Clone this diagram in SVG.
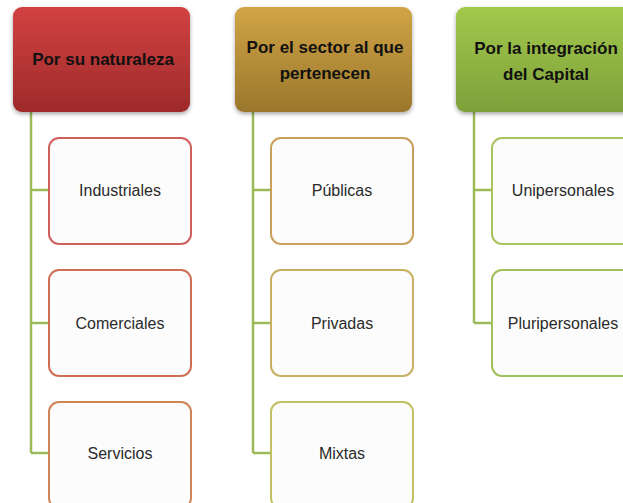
<svg xmlns="http://www.w3.org/2000/svg" width="623" height="503" viewBox="0 0 623 503">
  <style>
    .hdr { font-family: "Liberation Sans", Arial, sans-serif; font-weight: bold; font-size: 17px; fill: #111; text-anchor: middle; }
    .lbl { font-family: "Liberation Sans", Arial, sans-serif; font-size: 16px; fill: #2a2a2a; text-anchor: middle; }
    .child { fill: #fcfcfc; stroke-width: 2; }
    .conn { fill: none; stroke: #9bbb59; stroke-width: 2.5; }
  </style>
  <defs>
    <linearGradient id="gRed" x1="0" y1="0" x2="0" y2="1">
      <stop offset="0" stop-color="#d24242"/>
      <stop offset="1" stop-color="#9e2a2a"/>
    </linearGradient>
    <linearGradient id="gGold" x1="0" y1="0" x2="0" y2="1">
      <stop offset="0" stop-color="#d1a546"/>
      <stop offset="1" stop-color="#9a772c"/>
    </linearGradient>
    <linearGradient id="gGreen" x1="0" y1="0" x2="0" y2="1">
      <stop offset="0" stop-color="#a2c94c"/>
      <stop offset="1" stop-color="#7ea03a"/>
    </linearGradient>
    <filter id="sh" x="-10%" y="-10%" width="120%" height="130%">
      <feDropShadow dx="0" dy="2" stdDeviation="2" flood-color="#000" flood-opacity="0.35"/>
    </filter>
  </defs>

  <g id="connectors">
    <path class="conn" d="M31 112 V453 M31 190 H49 M31 323 H49 M31 453 H49"/>
    <path class="conn" d="M253 112 V453 M253 190 H271 M253 323 H271 M253 453 H271"/>
    <path class="conn" d="M474 112 V323 M474 190 H493 M474 323 H493"/>
  </g>

  <g id="h1">
    <rect x="13" y="7" width="177" height="105" rx="9" fill="url(#gRed)" filter="url(#sh)"/>
    <text class="hdr" x="103" y="65">Por su naturaleza</text>
  </g>
  <g id="h2">
    <rect x="235" y="7" width="177" height="105" rx="9" fill="url(#gGold)" filter="url(#sh)"/>
    <text class="hdr" x="325" y="53">Por el sector al que</text>
    <text class="hdr" x="325" y="79">pertenecen</text>
  </g>
  <g id="h3">
    <rect x="456" y="7" width="177" height="105" rx="9" fill="url(#gGreen)" filter="url(#sh)"/>
    <text class="hdr" x="546" y="54">Por la integración</text>
    <text class="hdr" x="546" y="80">del Capital</text>
  </g>

  <g id="c1a">
    <rect class="child" x="49" y="138" width="142" height="106" rx="10" stroke="#d0605c"/>
    <text class="lbl" x="120" y="196">Industriales</text>
  </g>
  <g id="c1b">
    <rect class="child" x="49" y="270" width="142" height="106" rx="10" stroke="#d06e58"/>
    <text class="lbl" x="120" y="329">Comerciales</text>
  </g>
  <g id="c1c">
    <rect class="child" x="49" y="402" width="142" height="106" rx="10" stroke="#cf8556"/>
    <text class="lbl" x="120" y="459">Servicios</text>
  </g>

  <g id="c2a">
    <rect class="child" x="271" y="138" width="142" height="106" rx="10" stroke="#c9a05c"/>
    <text class="lbl" x="342" y="196">Públicas</text>
  </g>
  <g id="c2b">
    <rect class="child" x="271" y="270" width="142" height="106" rx="10" stroke="#c8b060"/>
    <text class="lbl" x="342" y="329">Privadas</text>
  </g>
  <g id="c2c">
    <rect class="child" x="271" y="402" width="142" height="106" rx="10" stroke="#c2c060"/>
    <text class="lbl" x="342" y="459">Mixtas</text>
  </g>

  <g id="c3a">
    <rect class="child" x="492" y="138" width="142" height="106" rx="10" stroke="#abc35e"/>
    <text class="lbl" x="563" y="196">Unipersonales</text>
  </g>
  <g id="c3b">
    <rect class="child" x="492" y="270" width="142" height="106" rx="10" stroke="#a0c05c"/>
    <text class="lbl" x="563" y="329">Pluripersonales</text>
  </g>
</svg>
